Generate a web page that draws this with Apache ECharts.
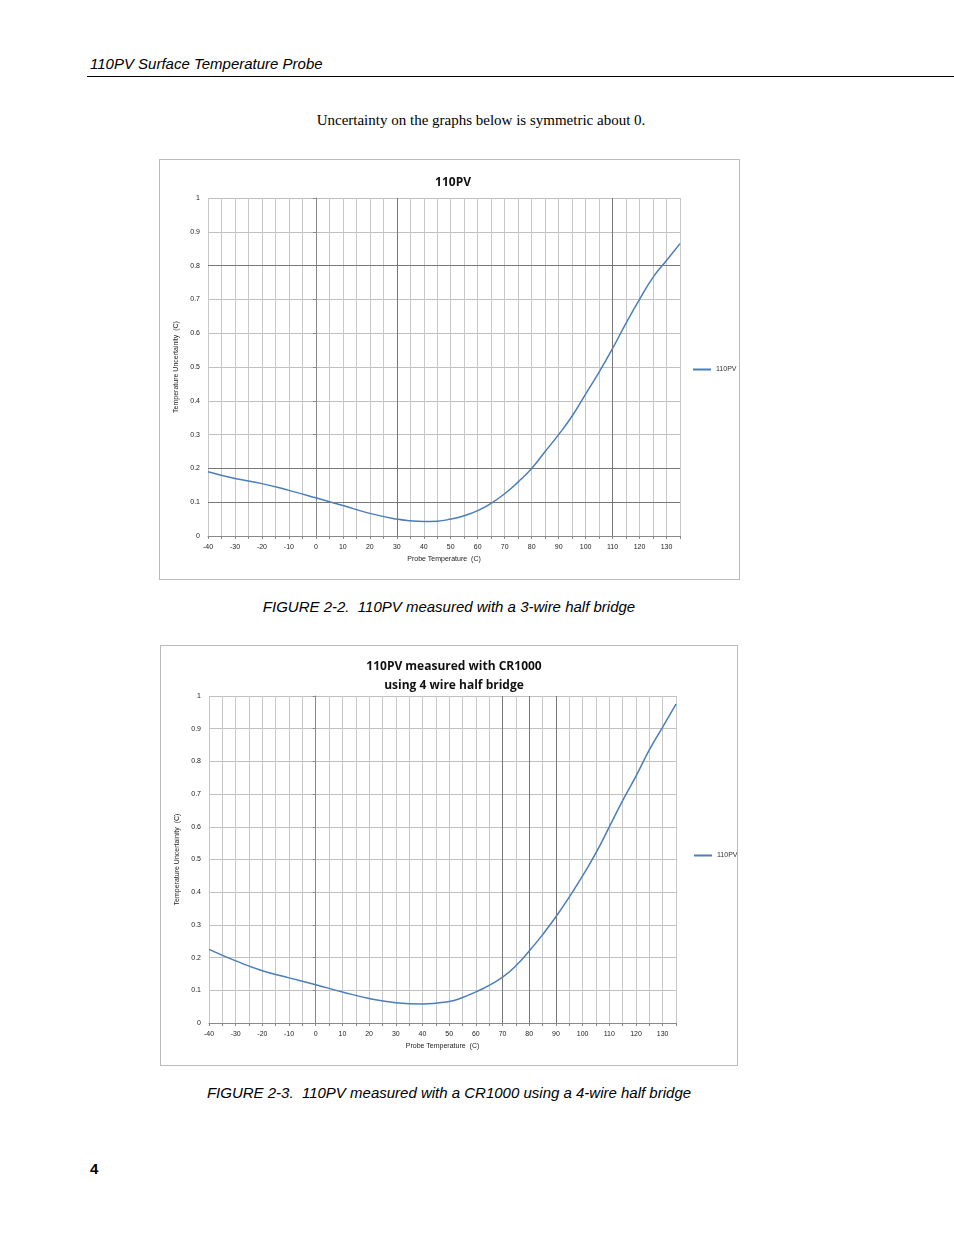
<!DOCTYPE html>
<html><head><meta charset="utf-8">
<script src="https://cdn.jsdelivr.net/npm/echarts@6/dist/echarts.min.js"></script>
<style>
body{margin:0;width:954px;height:1235px;position:relative;background:#fff;font-family:"Liberation Sans",Arial,sans-serif;}
.abs{position:absolute;}
.box{position:absolute;border:1px solid #bbb;box-sizing:border-box;}
</style></head><body>
<div class="abs" style="left:90px;top:55px;font-size:15px;font-style:italic;">110PV Surface Temperature Probe</div>
<div class="abs" style="left:87px;top:76px;width:867px;height:1px;background:#000;"></div>
<div class="abs" style="left:0;width:962px;top:112px;text-align:center;font-family:'Liberation Serif',serif;font-size:15px;">Uncertainty on the graphs below is symmetric about 0.</div>
<div id="c1" class="box" style="left:159px;top:159px;width:581px;height:421px;"></div>
<div class="abs" style="left:0;width:898px;top:598px;text-align:center;font-size:15px;font-style:italic;">FIGURE 2-2.&nbsp; 110PV measured with a 3-wire half bridge</div>
<div id="c2" class="box" style="left:160px;top:645px;width:578px;height:421px;"></div>
<div class="abs" style="left:0;width:898px;top:1084px;text-align:center;font-size:15px;font-style:italic;">FIGURE 2-3.&nbsp; 110PV measured with a CR1000 using a 4-wire half bridge</div>
<div class="abs" style="left:90px;top:1160px;font-size:15px;font-weight:bold;">4</div>
<script>
const x1 = [-40,-30,-20,-10,0,10,20,30,35,40,45,50,55,60,65,70,75,80,85,90,95,100,105,110,115,120,125,130,135];
const y1 = [0.19,0.17,0.155,0.135,0.113,0.09,0.067,0.05,0.045,0.043,0.044,0.05,0.06,0.075,0.097,0.125,0.16,0.2,0.25,0.3,0.355,0.42,0.485,0.555,0.63,0.7,0.765,0.815,0.865];
const x2 = [-40,-30,-20,-10,0,10,20,30,40,50,55,60,65,70,75,80,85,90,95,100,105,110,115,120,125,130,135];
const y2 = [0.225,0.19,0.16,0.138,0.117,0.095,0.075,0.062,0.058,0.066,0.078,0.095,0.115,0.14,0.175,0.22,0.27,0.325,0.385,0.45,0.52,0.6,0.68,0.755,0.835,0.905,0.975];
const title1 = '110PV';
const title2 = '110PV measured with CR1000\nusing 4 wire half bridge';
const dark1x = [30,110], dark1y = [0.1,0.2,0.8];
const dark2x = [70,80,90], dark2y = [];
function opt(title, xs, ys, gridTop, gridW, gridH, dx, dy, titleTop){
  const ml = dx.map(v=>({xAxis:v})).concat(dy.map(v=>({yAxis:v})));
  return {
    animation:false,
    title:{text:title,left:288,textAlign:'center',top:titleTop,textStyle:{fontFamily:'Open Sans',fontSize:12,fontWeight:'bold',color:'#111',lineHeight:19}},
    legend:{data:['110PV'],left:528,top:'middle',itemWidth:18,itemHeight:2,icon:'rect',textStyle:{fontSize:7,color:'#333'}},
    grid:{left:48,top:gridTop,width:gridW,height:gridH},
    xAxis:{type:'value',min:-40,max:135,interval:5,name:'Probe Temperature  (C)',nameLocation:'middle',nameGap:17,nameTextStyle:{fontSize:7,color:'#222'},
      axisLine:{lineStyle:{color:'#888'}},axisTick:{show:true,length:3,lineStyle:{color:'#888'}},
      axisLabel:{fontSize:7,color:'#222',formatter:v=>(v%10===0 && v<=130)?String(v):''},
      splitLine:{lineStyle:{color:'#c8c8c8'}}},
    yAxis:{type:'value',min:0,max:1,interval:0.1,name:'Temperature Uncertainity  (C)',nameLocation:'middle',nameGap:25,nameTextStyle:{fontSize:7,color:'#222'},
      axisLine:{show:true,lineStyle:{color:'#888'}},axisTick:{show:true,length:3,lineStyle:{color:'#888'}},
      axisLabel:{fontSize:7,color:'#222',formatter:v=>String(Math.round(v*10)/10)},
      splitLine:{lineStyle:{color:'#c0c0c0'}}},
    series:[{name:'110PV',type:'line',smooth:true,showSymbol:false,data:xs.map((x,i)=>[x,ys[i]]),
      lineStyle:{color:'#4a7ebb',width:1.5},itemStyle:{color:'#4a7ebb'},
      markLine:{silent:true,symbol:'none',label:{show:false},lineStyle:{color:'#777',type:'solid',width:1},data:ml}}]
  };
}
echarts.init(document.getElementById('c1')).setOption(opt(title1,x1,y1,38,472,338,dark1x,dark1y,8));
echarts.init(document.getElementById('c2')).setOption(opt(title2,x2,y2,50,467,327,dark2x,dark2y,6));
</script>
</body></html>
